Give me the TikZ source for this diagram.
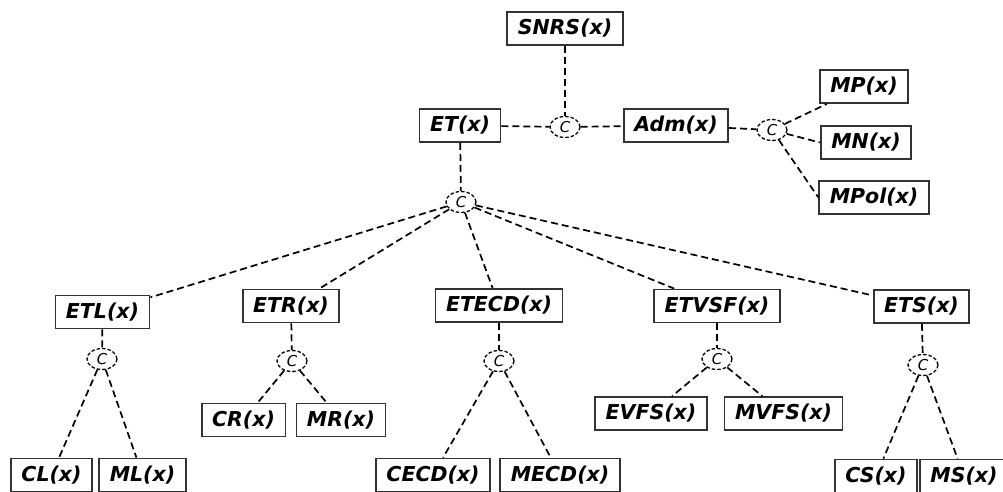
\documentclass[tikz,border=0pt]{standalone}
\usepackage{fontspec}
\setmainfont{DejaVu Sans}
\usetikzlibrary{shapes.geometric,calc}
\tikzset{
  fbox/.style={draw=black!80, line width=1.8pt, rectangle, minimum height=33pt,
    inner xsep=10.5pt, inner ysep=0pt, font=\fontsize{20.5}{21}\selectfont\bfseries\itshape, text=black},
  cnode/.style={draw=black, ellipse, dash pattern=on 3.5pt off 2pt, line width=1.3pt,
    minimum width=30pt, minimum height=21pt, inner sep=0pt,
    font=\fontsize{15}{15}\selectfont\itshape},
  conn/.style={draw=black, line width=1.7pt, dash pattern=on 7pt off 4pt}
}
\begin{document}
\begin{tikzpicture}[x=1pt,y=-1pt]
\useasboundingbox (0,0) rectangle (1003,492);
% top
\node[fbox] (snrs) at (565,28.5) {SNRS(x)};
\node[fbox] (et) at (460,125.5) {ET(x)};
\node[cnode] (ctop) at (565,127) {C};
\node[fbox] (adm) at (676,125.5) {Adm(x)};
\node[cnode] (cr) at (772,130) {C};
\node[fbox] (mp) at (864,86.5) {MP(x)};
\node[fbox] (mn) at (866,142.5) {MN(x)};
\node[fbox] (mpol) at (874,197.5) {MPol(x)};
\node[cnode] (cm) at (461,202) {C};
% level 1
\node[fbox] (etl) at (102.5,312) {ETL(x)};
\node[fbox] (etr) at (291,306) {ETR(x)};
\node[fbox] (etecd) at (499,305.5) {ETECD(x)};
\node[fbox] (etvsf) at (717,306) {ETVSF(x)};
\node[fbox] (ets) at (921.5,306.5) {ETS(x)};
% sub C
\node[cnode] (c1) at (102,359) {C};
\node[cnode] (c2) at (292,361) {C};
\node[cnode] (c3) at (499,361) {C};
\node[cnode] (c4) at (717,359) {C};
\node[cnode] (c5) at (923,365) {C};
% leaves
\node[fbox] (cl) at (51.5,475) {CL(x)};
\node[fbox] (ml) at (142.5,475) {ML(x)};
\node[fbox] (crx) at (243.5,420) {CR(x)};
\node[fbox] (mr) at (341,420) {MR(x)};
\node[fbox] (cecd) at (433,475) {CECD(x)};
\node[fbox] (mecd) at (560,475) {MECD(x)};
\node[fbox] (evfs) at (651,413.5) {EVFS(x)};
\node[fbox] (mvfs) at (783.5,413.5) {MVFS(x)};
\node[fbox] (cs) at (876,476) {CS(x)};
\node[fbox] (ms) at (964,476) {MS(x)};
% connectors
\draw[conn] (snrs) -- (ctop);
\draw[conn] (et) -- (ctop);
\draw[conn] (ctop) -- (adm);
\draw[conn] (adm) -- (cr);
\draw[conn] (cr) -- ($(mp.south west)+(8,0)$);
\draw[conn] (cr) -- (mn.west);
\draw[conn] (cr) -- (mpol.west);
\draw[conn] (et) -- (cm);
\draw[conn] (cm) -- (etl);
\draw[conn] (cm) -- (etr);
\draw[conn] (cm) -- (etecd);
\draw[conn] (cm) -- (etvsf);
\draw[conn] (cm) -- (ets);
\draw[conn] (etl) -- (c1);
\draw[conn] (etr) -- (c2);
\draw[conn] (etecd) -- (c3);
\draw[conn] (etvsf) -- (c4);
\draw[conn] (ets) -- (c5);
\draw[conn] (c1) -- (cl);
\draw[conn] (c1) -- (ml);
\draw[conn] (c2) -- (crx);
\draw[conn] (c2) -- (mr);
\draw[conn] (c3) -- (cecd);
\draw[conn] (c3) -- (mecd);
\draw[conn] (c4) -- (evfs);
\draw[conn] (c4) -- (mvfs);
\draw[conn] (c5) -- (cs);
\draw[conn] (c5) -- (ms);
\end{tikzpicture}
\end{document}
